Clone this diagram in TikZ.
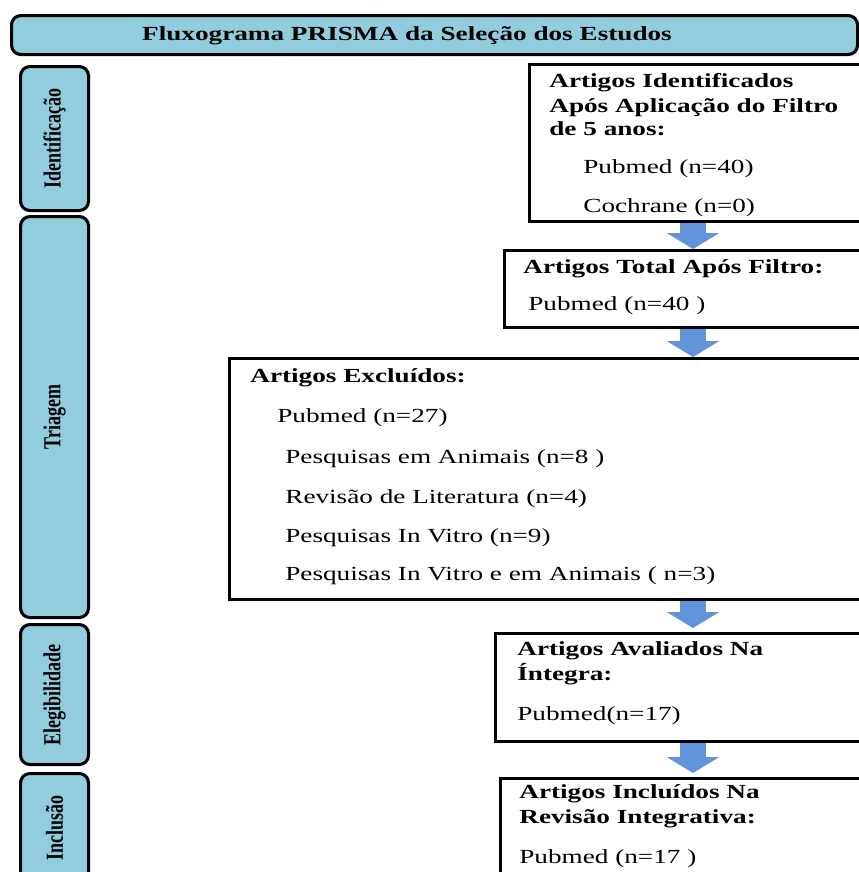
\documentclass[tikz,border=0pt]{standalone}
\usepackage{fontspec}
\setmainfont{Liberation Serif}
\usetikzlibrary{positioning}
\usetikzlibrary{arrows.meta}
\definecolor{barblue}{RGB}{146,205,221}
\definecolor{arrowblue}{RGB}{98,148,220}
\def\pxu{0.75pt}
\tikzstyle{bar}=[draw=black,line width=2.3pt,rounded corners=7pt,fill=barblue,anchor=north west,inner sep=0]
\tikzstyle{box}=[draw=black,line width=1.9pt,fill=white,anchor=north west,inner sep=0]
\tikzstyle{txt}=[anchor=base west,inner sep=0,xscale=1.36,font=\fontsize{15}{18}\selectfont]
\tikzstyle{btxt}=[txt,font=\bfseries\fontsize{15}{18}\selectfont]
\tikzstyle{side}=[inner sep=0,xscale=1.36,rotate=90,font=\bfseries\fontsize{13.5}{16}\selectfont]
\tikzstyle{flow}=[draw=arrowblue,line width=20pt,-{Triangle[width=39pt,length=12pt]}]
\begin{document}
\begin{tikzpicture}[x=0.75pt,y=-0.75pt]

				\useasboundingbox (0,0) rectangle (859,872);
				\clip (0,0) rectangle (859,872);

				% title bar and stage bars
				\node [bar, minimum width=846*\pxu, minimum height=39*\pxu] (head) at (10,14) {};
				\node [btxt, anchor=base] (headlbl) at ([shift={(397,26)}]head.north west) {Fluxograma PRISMA da Seleção dos Estudos};

				\node [bar, minimum width=68*\pxu, minimum height=144*\pxu] (ident) at (19,65) {};
				\node [side] (identlbl) at (ident.center) {Identificação};

				\node [bar, minimum width=68*\pxu, minimum height=401*\pxu] (triag) at (19,215) {};
				\node [side] (triaglbl) at (triag.center) {Triagem};

				\node [bar, minimum width=68*\pxu, minimum height=140*\pxu] (eleg) at (19,623) {};
				\node [side] (eleglbl) at (eleg.center) {Elegibilidade};

				\node [bar, minimum width=68*\pxu, minimum height=140*\pxu] (incl) at (19,772) {};
				\node [side] (incllbl) at ([yshift=12pt]incl.center) {Inclusão};

				% boxes
				\node [box, minimum width=360*\pxu, minimum height=157*\pxu] (b1) at (528,63) {};
				\node [box, minimum width=385*\pxu, minimum height=77*\pxu] (b2) at (503,249) {};
				\node [box, minimum width=660*\pxu, minimum height=241*\pxu] (b3) at (228,357) {};
				\node [box, minimum width=394*\pxu, minimum height=108*\pxu] (b4) at (494,632) {};
				\node [box, minimum width=390*\pxu, minimum height=130*\pxu] (b5) at (499,777) {};

				% box texts
				\node [btxt] (b1a) at ([shift={(21,24)}]b1.north west) {Artigos Identificados};
				\node [btxt] (b1b) at ([shift={(21,49)}]b1.north west) {Após Aplicação do Filtro};
				\node [btxt] (b1c) at ([shift={(21,72)}]b1.north west) {de 5 anos:};
				\node [txt] (b1d) at ([shift={(55,110)}]b1.north west) {Pubmed (n=40)};
				\node [txt] (b1e) at ([shift={(55,149)}]b1.north west) {Cochrane (n=0)};

				\node [btxt] (b2a) at ([shift={(20,24)}]b2.north west) {Artigos Total Após Filtro:};
				\node [txt] (b2b) at ([shift={(25,61)}]b2.north west) {Pubmed (n=40 )};

				\node [btxt] (b3a) at ([shift={(22,25)}]b3.north west) {Artigos Excluídos:};
				\node [txt] (b3b) at ([shift={(49,65)}]b3.north west) {Pubmed (n=27)};
				\node [txt] (b3c) at ([shift={(57,106)}]b3.north west) {Pesquisas em Animais (n=8 )};
				\node [txt] (b3d) at ([shift={(57,146)}]b3.north west) {Revisão de Literatura (n=4)};
				\node [txt] (b3e) at ([shift={(57,185)}]b3.north west) {Pesquisas In Vitro (n=9)};
				\node [txt] (b3f) at ([shift={(57,223)}]b3.north west) {Pesquisas In Vitro e em Animais ( n=3)};

				\node [btxt] (b4a) at ([shift={(23,23)}]b4.north west) {Artigos Avaliados Na};
				\node [btxt] (b4b) at ([shift={(23,48)}]b4.north west) {Íntegra:};
				\node [txt] (b4c) at ([shift={(23,88)}]b4.north west) {Pubmed(n=17)};

				\node [btxt] (b5a) at ([shift={(20,21)}]b5.north west) {Artigos Incluídos Na};
				\node [btxt] (b5b) at ([shift={(20,46)}]b5.north west) {Revisão Integrativa:};
				\node [txt] (b5c) at ([shift={(20,86)}]b5.north west) {Pubmed (n=17 )};

				% block arrows
				\coordinate (ax) at (693,0);
				\draw[flow] (b1.south -| ax) -- (b2.north -| ax);
				\draw[flow] (b2.south -| ax) -- (b3.north -| ax);
				\draw[flow,shorten >=3pt] (b3.south -| ax) -- (b4.north -| ax);
				\draw[flow,shorten >=3pt] (b4.south -| ax) -- (b5.north -| ax);

\end{tikzpicture}
\end{document}
